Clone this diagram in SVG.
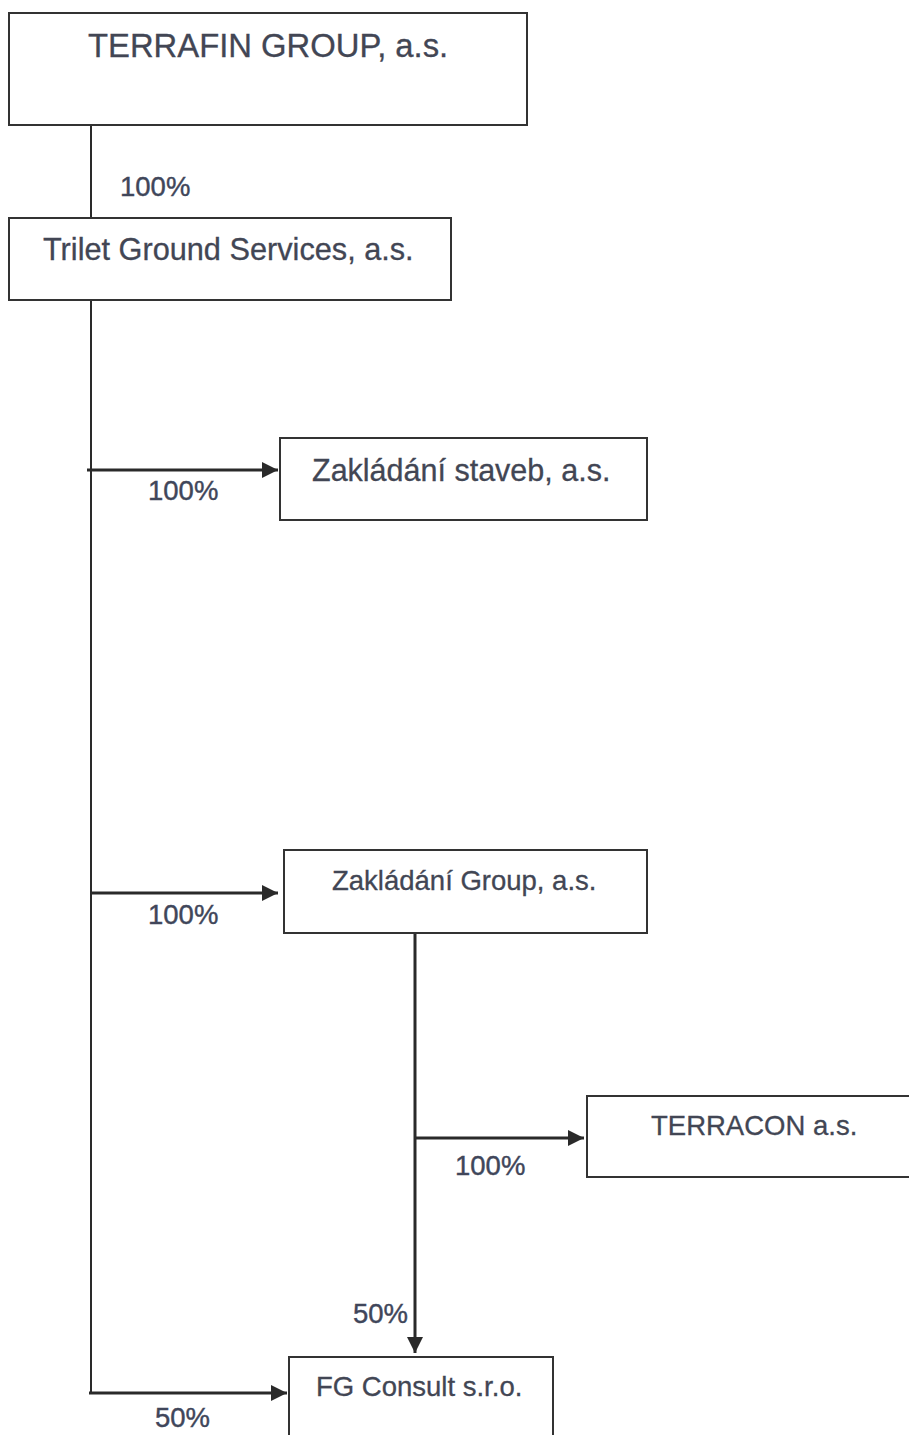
<svg xmlns="http://www.w3.org/2000/svg" width="909" height="1435" viewBox="0 0 909 1435">
<defs>
<style>
.box{fill:#fff;stroke:#333;stroke-width:2}
.t{font-family:"Liberation Sans",Arial,sans-serif;fill:#424654;stroke:#424654;stroke-width:0.3}
.p{font-family:"Liberation Sans",Arial,sans-serif;fill:#40465a;stroke:#40465a;stroke-width:0.4;font-size:27.5px}
.ln{stroke:#2a2a2a;stroke-width:2;fill:none}
.ar{stroke:#2a2a2a;stroke-width:3;fill:none}
</style>
<marker id="ah" viewBox="0 0 10 10" refX="10" refY="5" markerUnits="userSpaceOnUse" markerWidth="21" markerHeight="16" orient="auto">
<path d="M0,0 L10,5 L0,10 Z" fill="#2a2a2a"/>
</marker>
</defs>
<rect width="909" height="1435" fill="#fff"/>
<g id="connectors">
<line class="ln" x1="91" y1="125" x2="91" y2="218"/>
<line class="ln" x1="91" y1="300" x2="91" y2="1394"/>
<line class="ar" x1="87" y1="470" x2="278" y2="470" marker-end="url(#ah)"/>
<line class="ar" x1="91" y1="893" x2="278" y2="893" marker-end="url(#ah)"/>
<line class="ar" x1="415" y1="933" x2="415" y2="1353" marker-end="url(#ah)"/>
<line class="ar" x1="415" y1="1138" x2="584" y2="1138" marker-end="url(#ah)"/>
<line class="ar" x1="89" y1="1393" x2="287" y2="1393" marker-end="url(#ah)"/>
<text class="p" x="120" y="196">100%</text>
<text class="p" x="148" y="500">100%</text>
<text class="p" x="148" y="924">100%</text>
<text class="p" x="455" y="1175">100%</text>
<text class="p" x="353" y="1323">50%</text>
<text class="p" x="155" y="1427">50%</text>
</g>
<g id="terrafin">
<rect class="box" x="9" y="13" width="518" height="112"/>
<text class="t" x="88" y="57" font-size="32.8">TERRAFIN GROUP, a.s.</text>
</g>
<g id="trilet">
<rect class="box" x="9" y="218" width="442" height="82"/>
<text class="t" x="43" y="260" font-size="30.7">Trilet Ground Services, a.s.</text>
</g>
<g id="zakladani-staveb">
<rect class="box" x="280" y="438" width="367" height="82"/>
<text class="t" x="312" y="481" font-size="30.5">Zakládání staveb, a.s.</text>
</g>
<g id="zakladani-group">
<rect class="box" x="284" y="850" width="363" height="83"/>
<text class="t" x="332" y="890" font-size="27.5">Zakládání Group, a.s.</text>
</g>
<g id="terracon">
<rect class="box" x="587" y="1096" width="340" height="81"/>
<text class="t" x="651" y="1135" font-size="27.5">TERRACON a.s.</text>
</g>
<g id="fg-consult">
<rect class="box" x="289" y="1357" width="264" height="100"/>
<text class="t" x="316" y="1396" font-size="27.5">FG Consult s.r.o.</text>
</g>
</svg>
